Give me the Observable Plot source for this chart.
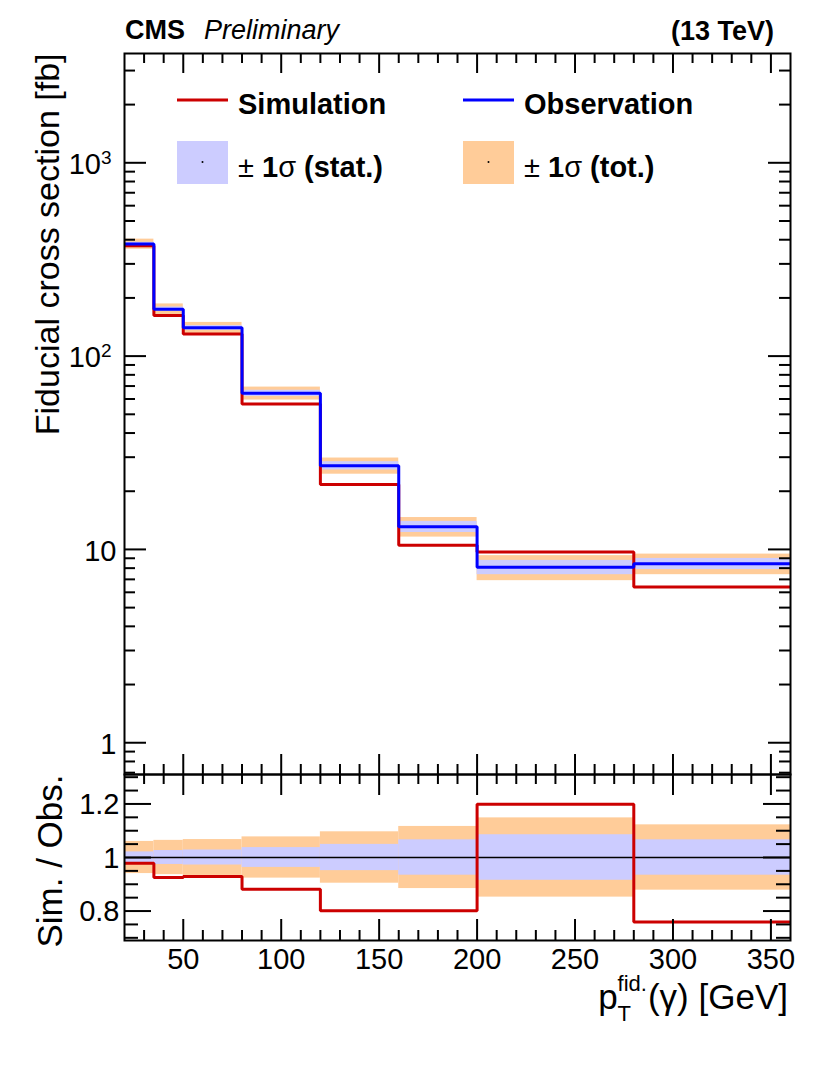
<!DOCTYPE html>
<html>
<head>
<meta charset="utf-8">
<script src="https://cdn.jsdelivr.net/npm/d3@7"></script>
<script src="https://cdn.jsdelivr.net/npm/@observablehq/plot@0.6"></script>
<style>
  html, body { margin: 0; padding: 0; background: #fff; overflow: hidden; }
  #wrap { position: relative; width: 830px; height: 1082px; }
  #wrap svg { position: absolute; left: 0; top: 0; }
</style>
</head>
<body>
<div id="wrap"></div>
<script>
// ---------------- data ----------------
const binLo = [20, 35, 50, 80, 120, 160, 200, 280];
const binHi = [35, 50, 80, 120, 160, 200, 280, 360];
const observed  = [380, 175, 140, 64.2, 27.1, 13.1, 8.09, 8.43];   // fb
const simulated = [372, 162, 130, 56.6, 21.7, 10.5, 9.70, 6.40];   // fb
const statRel = [0.021, 0.026, 0.028, 0.037, 0.049, 0.066, 0.085, 0.066];
const totRel  = [0.060, 0.064, 0.067, 0.077, 0.096, 0.116, 0.148, 0.122];

const xMajorTicks = [50, 100, 150, 200, 250, 300, 350];
const xMinorTicks = [30, 40, 60, 70, 80, 90, 110, 120, 130, 140, 160, 170, 180, 190,
                     210, 220, 230, 240, 260, 270, 280, 290, 310, 320, 330, 340];
const yMajorTicks = [1, 10, 100, 1000];
const yMajorLabels = ["1", "10", "10^2", "10^3"];
const yMinorTicks = [0.7, 0.8, 0.9, 2, 3, 4, 5, 6, 7, 8, 9, 20, 30, 40, 50, 60, 70, 80, 90,
                     200, 300, 400, 500, 600, 700, 800, 900, 2000, 3000];
const rMajorTicks = [0.8, 1, 1.2];
const rMajorLabels = ["0.8", "1", "1.2"];
const rMinorTicks = [0.7, 0.75, 0.85, 0.9, 0.95, 1.05, 1.1, 1.15, 1.25, 1.3];

const yTitle = "Fiducial cross section [fb]";
const rTitle = "Sim. / Obs.";

// ---------------- layout ----------------
const W = 830, H = 1082;
const fL = 124, fR = 790, fT = 53, fM = 774, fB = 940;
const pw = fR - fL, hU = fM - fT, hL = fB - fM;
const FONT = "'Liberation Sans', Arial, Helvetica, sans-serif";
const RED = "#cc0000", BLUE = "#0000ff", STAT = "#ccccff", TOT = "#ffcc99";

const bins = binLo.map((lo, i) => ({
  lo, hi: binHi[i], obs: observed[i], sim: simulated[i],
  ratio: simulated[i] / observed[i], stat: statRel[i], tot: totRel[i]
}));
const steps = key => bins.flatMap(b => [{x: b.lo, v: b[key]}, {x: b.hi, v: b[key]}]);

const yTick = (vals, len, side) => Plot.tickY(vals, {
  y: d => d, stroke: "black", strokeWidth: 2,
  insetLeft: side === "right" ? pw - len : 0,
  insetRight: side === "left" ? pw - len : 0
});
const xTick = (vals, len, side, h) => Plot.tickX(vals, {
  x: d => d, stroke: "black", strokeWidth: 2,
  insetTop: side === "bottom" ? h - len : 0,
  insetBottom: side === "top" ? h - len : 0
});

// ---------------- upper panel ----------------
const upper = Plot.plot({
  width: W, height: H,
  marginLeft: fL, marginRight: W - fR, marginTop: fT, marginBottom: H - fM,
  x: {domain: [20, 360], axis: null},
  y: {type: "log", domain: [0.685, 3676], axis: null},
  style: {background: "transparent", fontFamily: FONT, overflow: "visible"},
  marks: [
    Plot.rect(bins, {x1: "lo", x2: "hi", y1: d => d.obs * (1 - d.tot), y2: d => d.obs * (1 + d.tot), fill: TOT}),
    Plot.rect(bins, {x1: "lo", x2: "hi", y1: d => d.obs * (1 - d.stat), y2: d => d.obs * (1 + d.stat), fill: STAT}),
    Plot.line(steps("sim"), {x: "x", y: "v", stroke: RED, strokeWidth: 3, strokeLinejoin: "miter", strokeLinecap: "butt"}),
    Plot.line(steps("obs"), {x: "x", y: "v", stroke: BLUE, strokeWidth: 3, strokeLinejoin: "miter", strokeLinecap: "butt"}),
    yTick(yMajorTicks, 22, "left"), yTick(yMinorTicks, 11, "left"),
    yTick(yMajorTicks, 22, "right"), yTick(yMinorTicks, 11, "right"),
    xTick(xMajorTicks, 20, "top", hU), xTick(xMinorTicks, 10, "top", hU),
    xTick(xMajorTicks, 20, "bottom", hU), xTick(xMinorTicks, 10, "bottom", hU),
    Plot.frame({stroke: "black", strokeWidth: 2}),
    Plot.text(yMajorTicks.slice(0, 2), {y: d => d, text: (d, i) => yMajorLabels[i], frameAnchor: "left",
      textAnchor: "end", dx: -8, dy: 2, fontSize: 29}),
    Plot.text(yMajorTicks.slice(2), {y: d => d, text: (d, i) => yMajorLabels[i + 2], frameAnchor: "left",
      textAnchor: "end", dx: -13, dy: 2, fontSize: 29}),
    Plot.text([yTitle], {text: d => d, frameAnchor: "top-left", rotate: -90, textAnchor: "end",
      lineAnchor: "bottom", dx: -66, fontSize: 34})
  ]
});

// ---------------- ratio panel ----------------
const lower = Plot.plot({
  width: W, height: H,
  marginLeft: fL, marginRight: W - fR, marginTop: fM, marginBottom: H - fB,
  x: {domain: [20, 360], axis: null},
  y: {domain: [0.69, 1.31], axis: null},
  style: {background: "transparent", fontFamily: FONT, overflow: "visible"},
  marks: [
    Plot.rect(bins, {x1: "lo", x2: "hi", y1: d => 1 - d.tot, y2: d => 1 + d.tot, fill: TOT}),
    Plot.rect(bins, {x1: "lo", x2: "hi", y1: d => 1 - d.stat, y2: d => 1 + d.stat, fill: STAT}),
    Plot.ruleY([1], {stroke: "black", strokeWidth: 1.5}),
    Plot.line(steps("ratio"), {x: "x", y: "v", stroke: RED, strokeWidth: 3, strokeLinejoin: "miter", strokeLinecap: "butt"}),
    yTick(rMajorTicks, 27, "left"), yTick(rMinorTicks, 14, "left"),
    yTick(rMajorTicks, 27, "right"), yTick(rMinorTicks, 14, "right"),
    xTick(xMajorTicks, 21, "top", hL), xTick(xMinorTicks, 10, "top", hL),
    xTick(xMajorTicks, 21, "bottom", hL), xTick(xMinorTicks, 10, "bottom", hL),
    Plot.frame({stroke: "black", strokeWidth: 2}),
    Plot.text(rMajorTicks, {y: d => d, text: (d, i) => rMajorLabels[i], frameAnchor: "left",
      textAnchor: "end", dx: -5, dy: 1, fontSize: 29}),
    Plot.text(xMajorTicks, {x: d => d, text: d => String(d), frameAnchor: "bottom",
      lineAnchor: "top", dy: 8, fontSize: 29}),
    Plot.text([rTitle], {text: d => d, frameAnchor: "top-left", rotate: -90, textAnchor: "end",
      lineAnchor: "bottom", dx: -63, fontSize: 35})
  ]
});

const wrap = document.getElementById("wrap");
wrap.appendChild(upper);
wrap.appendChild(lower);

// superscript exponents on the log labels
d3.select(upper).selectAll("text").each(function () {
  const t = this.textContent;
  if (t.includes("^")) {
    const [base, exp] = t.split("^");
    const sel = d3.select(this);
    sel.text(null);
    sel.append("tspan").text(base);
    sel.append("tspan").attr("dy", -10).attr("font-size", 19).text(exp);
  }
});

// ---------------- header, legend, x title ----------------
const ov = d3.create("svg").attr("width", W).attr("height", H)
  .attr("font-family", FONT).style("overflow", "visible");
ov.append("text").attr("x", 125).attr("y", 39).attr("font-size", 27).attr("font-weight", "bold").text("CMS");
ov.append("text").attr("x", 204).attr("y", 39).attr("font-size", 27).attr("font-style", "italic").text("Preliminary");
ov.append("text").attr("x", 774).attr("y", 40).attr("font-size", 27).attr("font-weight", "bold")
  .attr("text-anchor", "end").text("(13 TeV)");

const legendItems = [
  {kind: "line", color: RED, label: "Simulation", x: 177, y: 100},
  {kind: "line", color: BLUE, label: "Observation", x: 463, y: 100},
  {kind: "box", color: STAT, label: "(stat.)", x: 177, y: 162},
  {kind: "box", color: TOT, label: "(tot.)", x: 463, y: 162}
];
legendItems.forEach(it => {
  if (it.kind === "line") {
    ov.append("line").attr("x1", it.x).attr("x2", it.x + 51).attr("y1", it.y).attr("y2", it.y)
      .attr("stroke", it.color).attr("stroke-width", 3);
    ov.append("text").attr("x", it.x + 61).attr("y", it.y + 14).attr("font-size", 29)
      .attr("font-weight", "bold").text(it.label);
  } else {
    ov.append("rect").attr("x", it.x).attr("y", it.y - 21).attr("width", 51).attr("height", 43).attr("fill", it.color);
    ov.append("circle").attr("cx", it.x + 25.5).attr("cy", it.y).attr("r", 1).attr("fill", "black");
    const t = ov.append("text").attr("x", it.x + 61).attr("y", it.y + 15).attr("font-size", 29);
    t.append("tspan").text("± ");
    t.append("tspan").attr("font-weight", "bold").text("1");
    t.append("tspan").text("σ");
    t.append("tspan").attr("font-weight", "bold").text(" " + it.label);
  }
});

wrap.appendChild(ov.node());

// x-axis title with stacked super/subscript
const xt1 = ov.append("text").attr("x", 788).attr("y", 1009).attr("font-size", 35)
  .attr("text-anchor", "end").text("(γ) [GeV]");
const s = 788 - xt1.node().getComputedTextLength();
const sup = ov.append("text").attr("x", s - 1).attr("y", 991).attr("font-size", 22)
  .attr("text-anchor", "end").text("fid.");
const f = s - 1 - sup.node().getComputedTextLength();
ov.append("text").attr("x", f).attr("y", 1021).attr("font-size", 22).text("T");
ov.append("text").attr("x", f).attr("y", 1009).attr("font-size", 35).attr("text-anchor", "end").text("p");
</script>
</body>
</html>
